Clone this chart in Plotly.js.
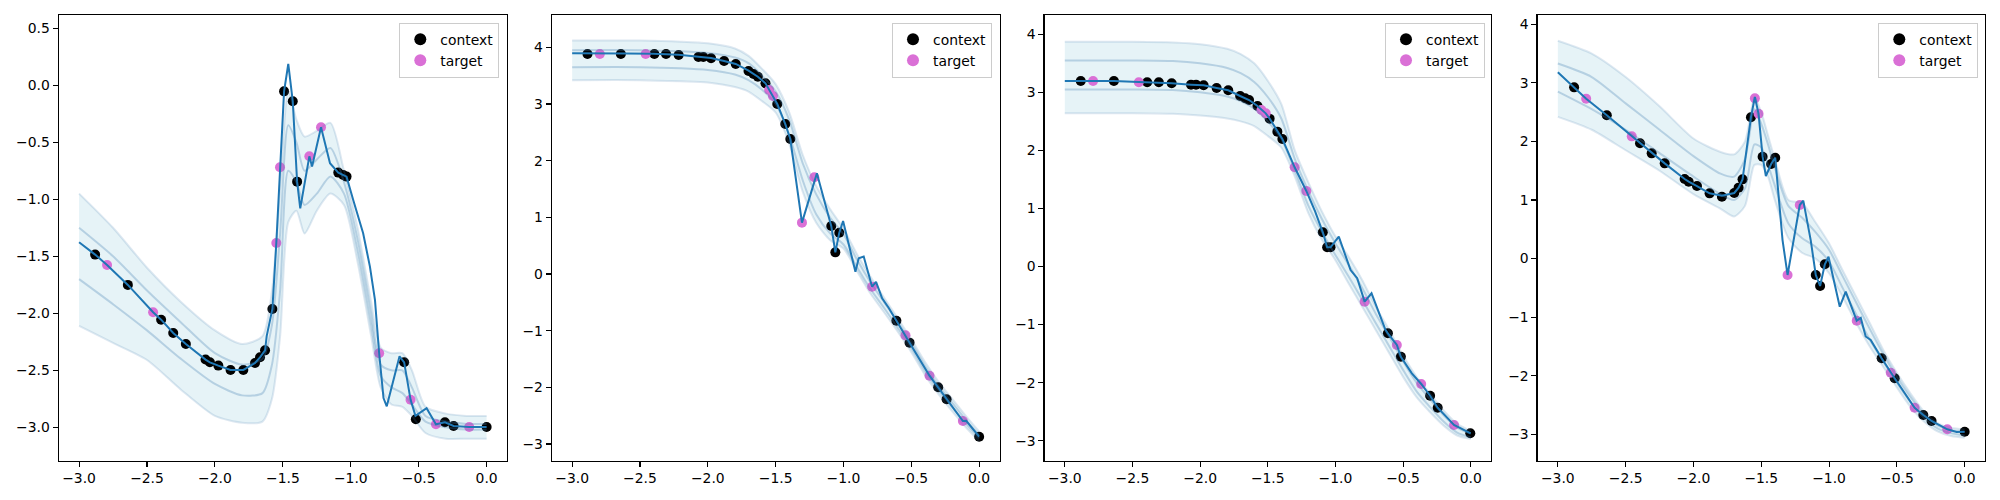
<!DOCTYPE html>
<html><head><meta charset="utf-8">
<script src="https://cdn.plot.ly/plotly-3.0.1.min.js"></script>
<style>html,body{margin:0;padding:0;background:#fff}#chart{width:2000px;height:500px}</style>
</head><body><div id="chart"></div>
<script>
// ---------- Panel 1 ----------
const p1LineX = [-3,-2.882,-2.794,-2.641,-2.455,-2.396,-2.307,-2.214,-2.069,-2.037,-1.975,-1.885,-1.791,-1.705,-1.668,-1.631,-1.619,-1.577,-1.548,-1.521,-1.491,-1.460,-1.427,-1.395,-1.372,-1.305,-1.285,-1.219,-1.170,-1.153,-1.092,-1.056,-1.031,-0.982,-0.909,-0.859,-0.822,-0.791,-0.759,-0.735,-0.641,-0.607,-0.560,-0.524,-0.442,-0.373,-0.307,-0.243,-0.128,0];
const p1LineY = [-1.377,-1.485,-1.576,-1.751,-1.991,-2.056,-2.173,-2.269,-2.406,-2.430,-2.459,-2.497,-2.497,-2.436,-2.386,-2.325,-2.200,-1.962,-1.384,-0.719,-0.053,0.187,-0.140,-0.845,-1.079,-0.623,-0.713,-0.368,-0.600,-0.684,-0.766,-0.787,-0.801,-1.006,-1.298,-1.591,-1.883,-2.351,-2.743,-2.816,-2.377,-2.430,-2.757,-2.900,-2.833,-2.974,-2.956,-2.989,-2.997,-2.997];
const p1CtxX = [-2.882,-2.641,-2.396,-2.307,-2.214,-2.069,-2.037,-1.975,-1.885,-1.791,-1.705,-1.668,-1.631,-1.577,-1.491,-1.427,-1.395,-1.092,-1.056,-1.031,-0.607,-0.521,-0.307,-0.243,0];
const p1CtxY = [-1.485,-1.751,-2.056,-2.173,-2.269,-2.406,-2.430,-2.459,-2.497,-2.497,-2.436,-2.386,-2.325,-1.962,-0.053,-0.140,-0.845,-0.766,-0.787,-0.801,-2.430,-2.930,-2.956,-2.989,-2.997];
const p1TgtX = [-2.794,-2.455,-1.548,-1.521,-1.305,-1.219,-0.791,-0.560,-0.373,-0.128];
const p1TgtY = [-1.576,-1.991,-1.384,-0.719,-0.623,-0.368,-2.351,-2.759,-2.974,-2.997];
const p1SampX = [-3,-2.75,-2.5,-2.25,-2.0,-1.8,-1.65,-1.58,-1.52,-1.46,-1.40,-1.34,-1.25,-1.15,-1.05,-0.95,-0.85,-0.78,-0.70,-0.62,-0.55,-0.45,-0.3,-0.15,0];
const p1SampTop  = [-0.95,-1.25,-1.6,-1.9,-2.15,-2.27,-2.2,-1.8,-0.9,-0.05,-0.3,-0.45,-0.4,-0.33,-0.75,-1.25,-1.9,-2.3,-2.35,-2.35,-2.5,-2.82,-2.88,-2.9,-2.9];
const p1SampHigh = [-1.25,-1.5,-1.8,-2.08,-2.35,-2.45,-2.4,-2.1,-1.3,-0.35,-0.5,-0.75,-0.65,-0.55,-0.85,-1.35,-2.0,-2.45,-2.5,-2.5,-2.65,-2.9,-2.95,-2.97,-2.97];
const p1SampLow  = [-1.7,-1.92,-2.15,-2.4,-2.62,-2.72,-2.7,-2.45,-1.8,-0.75,-0.85,-1.05,-0.95,-0.8,-0.95,-1.45,-2.1,-2.55,-2.65,-2.7,-2.8,-2.95,-3.0,-3.02,-3.02];
const p1SampBot  = [-2.11,-2.26,-2.41,-2.67,-2.9,-2.96,-2.95,-2.75,-2.2,-1.2,-1.1,-1.3,-1.1,-0.95,-1.05,-1.55,-2.2,-2.65,-2.8,-2.82,-2.9,-3.05,-3.1,-3.1,-3.1];

// ---------- Panel 2 ----------
const p2LineX = [-3,-2.887,-2.6,-2.4,-2.215,-2.069,-1.976,-1.88,-1.794,-1.7,-1.631,-1.575,-1.548,-1.52,-1.488,-1.429,-1.392,-1.306,-1.196,-1.109,-1.09,-1.06,-1.031,-1.003,-0.912,-0.888,-0.851,-0.789,-0.760,-0.715,-0.666,-0.61,-0.543,-0.513,-0.366,-0.302,-0.24,-0.12,-0.095,0];
const p2LineY = [3.894,3.89,3.89,3.888,3.87,3.835,3.81,3.76,3.706,3.59,3.48,3.365,3.247,3.141,3.0,2.647,2.382,0.906,1.776,1.012,0.847,0.382,0.729,0.935,0.04,0.278,0.308,-0.224,-0.14,-0.43,-0.6,-0.824,-1.083,-1.212,-1.795,-2.0,-2.212,-2.594,-2.59,-2.871];
const p2CtxX = [-2.887,-2.641,-2.394,-2.308,-2.215,-2.069,-2.033,-1.976,-1.88,-1.794,-1.7,-1.663,-1.631,-1.575,-1.488,-1.429,-1.392,-1.09,-1.06,-1.031,-0.61,-0.513,-0.302,-0.24,0];
const p2CtxY = [3.882,3.882,3.882,3.882,3.865,3.829,3.829,3.806,3.759,3.706,3.582,3.529,3.482,3.365,3.0,2.647,2.382,0.847,0.382,0.729,-0.824,-1.212,-2.0,-2.212,-2.871];
const p2TgtX = [-2.796,-2.458,-1.548,-1.52,-1.306,-1.215,-0.789,-0.543,-0.366,-0.12];
const p2TgtY = [3.882,3.882,3.247,3.141,0.906,1.706,-0.224,-1.083,-1.795,-2.594];
const p2SampX = [-3,-2.5,-2.2,-2.0,-1.8,-1.7,-1.6,-1.5,-1.4,-1.3,-1.2,-1.1,-1.0,-0.9,-0.8,-0.7,-0.6,-0.5,-0.4,-0.3,-0.2,-0.1,0];
const p2SampTop  = [4.12,4.12,4.1,4.07,3.98,3.85,3.62,3.35,2.85,2.1,1.55,1.15,0.8,0.35,-0.05,-0.42,-0.78,-1.15,-1.55,-1.9,-2.2,-2.5,-2.78];
const p2SampHigh = [3.95,3.95,3.93,3.9,3.82,3.72,3.5,3.22,2.72,1.95,1.4,1.0,0.7,0.25,-0.15,-0.5,-0.85,-1.22,-1.62,-1.97,-2.27,-2.57,-2.84];
const p2SampLow  = [3.65,3.65,3.63,3.6,3.52,3.42,3.25,3.0,2.45,1.65,1.05,0.72,0.52,0.12,-0.27,-0.6,-0.95,-1.31,-1.71,-2.05,-2.35,-2.63,-2.9];
const p2SampBot  = [3.42,3.42,3.4,3.38,3.3,3.22,3.05,2.85,2.3,1.45,0.9,0.6,0.45,0.05,-0.35,-0.68,-1.02,-1.38,-1.78,-2.12,-2.42,-2.7,-2.95];

// ---------- Panel 3 ----------
const p3LineX = [-3,-2.882,-2.791,-2.637,-2.453,-2.391,-2.305,-2.21,-2.067,-2.03,-1.974,-1.878,-1.792,-1.704,-1.667,-1.638,-1.576,-1.547,-1.515,-1.486,-1.429,-1.392,-1.301,-1.215,-1.15,-1.093,-1.061,-1.036,-0.975,-0.888,-0.839,-0.784,-0.733,-0.63,-0.612,-0.546,-0.516,-0.435,-0.366,-0.3,-0.244,-0.123,0];
const p3LineY = [3.195,3.195,3.195,3.195,3.18,3.175,3.17,3.156,3.133,3.128,3.121,3.075,3.035,2.937,2.897,2.868,2.765,2.696,2.638,2.547,2.323,2.197,1.709,1.302,0.95,0.59,0.331,0.331,0.514,-0.06,-0.2,-0.605,-0.461,-1.09,-1.15,-1.351,-1.553,-1.839,-2.023,-2.225,-2.431,-2.729,-2.872];
const p3CtxX = [-2.882,-2.637,-2.391,-2.305,-2.21,-2.067,-2.03,-1.974,-1.878,-1.792,-1.704,-1.667,-1.638,-1.576,-1.486,-1.429,-1.392,-1.093,-1.061,-1.036,-0.612,-0.516,-0.3,-0.244,-0.003];
const p3CtxY = [3.195,3.195,3.173,3.173,3.156,3.133,3.133,3.121,3.075,3.035,2.937,2.897,2.868,2.765,2.547,2.323,2.197,0.59,0.331,0.331,-1.15,-1.553,-2.225,-2.431,-2.872];
const p3TgtX = [-2.791,-2.453,-1.547,-1.515,-1.301,-1.215,-0.784,-0.546,-0.366,-0.123];
const p3TgtY = [3.195,3.173,2.696,2.638,1.709,1.302,-0.605,-1.351,-2.023,-2.729];
const p3SampX = [-3,-2.5,-2.2,-2.0,-1.8,-1.7,-1.6,-1.5,-1.4,-1.3,-1.2,-1.1,-1.0,-0.9,-0.8,-0.7,-0.6,-0.5,-0.4,-0.3,-0.2,-0.1,0];
const p3SampTop  = [3.87,3.87,3.86,3.83,3.75,3.66,3.5,3.2,2.8,2.0,1.45,0.95,0.52,0.16,-0.24,-0.7,-1.1,-1.53,-1.9,-2.19,-2.48,-2.71,-2.83];
const p3SampHigh = [3.55,3.55,3.54,3.5,3.42,3.33,3.18,2.92,2.55,1.85,1.3,0.82,0.4,0.02,-0.38,-0.82,-1.22,-1.63,-2.0,-2.29,-2.56,-2.77,-2.88];
const p3SampLow  = [3.05,3.05,3.04,3.0,2.93,2.85,2.72,2.5,2.2,1.65,1.05,0.6,0.2,-0.18,-0.58,-0.98,-1.38,-1.78,-2.15,-2.42,-2.67,-2.86,-2.94];
const p3SampBot  = [2.64,2.64,2.63,2.6,2.55,2.5,2.42,2.25,2.05,1.55,0.92,0.46,0.11,-0.3,-0.7,-1.1,-1.5,-1.9,-2.25,-2.51,-2.74,-2.91,-2.97];

// ---------- Panel 4 ----------
const p4LineX = [-3,-2.88,-2.791,-2.639,-2.455,-2.394,-2.308,-2.212,-2.065,-2.035,-1.974,-1.881,-1.79,-1.699,-1.667,-1.638,-1.576,-1.547,-1.52,-1.49,-1.466,-1.427,-1.397,-1.343,-1.306,-1.216,-1.19,-1.135,-1.098,-1.066,-1.031,-1.004,-0.921,-0.877,-0.796,-0.766,-0.73,-0.693,-0.612,-0.545,-0.516,-0.369,-0.305,-0.244,-0.128,-0.06,0];
const p4LineY = [3.18,2.924,2.73,2.446,2.087,1.968,1.797,1.626,1.359,1.313,1.239,1.114,1.075,1.12,1.211,1.353,2.412,2.76,2.474,1.74,1.41,1.615,1.723,0.316,-0.28,0.915,0.99,0.31,-0.28,-0.468,-0.098,0.032,-0.822,-0.566,-1.06,-1.014,-1.33,-1.39,-1.703,-1.948,-2.044,-2.546,-2.671,-2.773,-2.915,-2.96,-2.956];
const p4CtxX = [-2.88,-2.639,-2.394,-2.308,-2.212,-2.065,-2.035,-1.974,-1.881,-1.79,-1.699,-1.667,-1.638,-1.576,-1.49,-1.427,-1.397,-1.098,-1.066,-1.031,-0.612,-0.516,-0.305,-0.244,0];
const p4CtxY = [2.924,2.446,1.968,1.797,1.626,1.359,1.313,1.239,1.114,1.057,1.12,1.211,1.353,2.412,1.74,1.615,1.723,-0.28,-0.468,-0.098,-1.703,-2.044,-2.671,-2.773,-2.956];
const p4TgtX = [-2.791,-2.455,-1.547,-1.52,-1.306,-1.216,-0.796,-0.545,-0.369,-0.128];
const p4TgtY = [2.73,2.087,2.736,2.474,-0.28,0.915,-1.06,-1.948,-2.546,-2.915];
const p4SampX = [-3,-2.75,-2.5,-2.25,-2.0,-1.8,-1.7,-1.62,-1.55,-1.5,-1.45,-1.4,-1.3,-1.2,-1.1,-1.0,-0.9,-0.8,-0.7,-0.6,-0.5,-0.4,-0.3,-0.2,-0.1,0];
const p4SampTop  = [3.72,3.5,3.1,2.6,2.05,1.82,1.78,2.0,2.75,2.5,2.1,1.7,1.0,0.95,0.62,0.26,-0.2,-0.65,-1.1,-1.56,-1.95,-2.3,-2.61,-2.81,-2.89,-2.92];
const p4SampHigh = [3.33,3.1,2.65,2.2,1.75,1.45,1.4,1.7,2.55,2.3,1.95,1.55,0.9,0.7,0.45,0.15,-0.3,-0.75,-1.2,-1.63,-2.02,-2.36,-2.66,-2.85,-2.93,-2.96];
const p4SampLow  = [2.85,2.55,2.2,1.8,1.4,1.1,1.0,1.2,1.95,1.9,1.6,1.25,0.6,0.35,0.2,-0.05,-0.5,-0.95,-1.38,-1.76,-2.12,-2.45,-2.72,-2.9,-2.98,-3.02];
const p4SampBot  = [2.42,2.2,1.85,1.5,1.1,0.85,0.72,0.9,1.6,1.6,1.4,1.0,0.35,0.1,0.0,-0.25,-0.65,-1.1,-1.5,-1.85,-2.2,-2.53,-2.78,-2.95,-3.03,-3.06];

const legendLabels = ['context', 'target'];
const xTickVals = [-3.0,-2.5,-2.0,-1.5,-1.0,-0.5,0.0];

const panels = [
  {lx:p1LineX, ly:p1LineY, cx:p1CtxX, cy:p1CtxY, tx:p1TgtX, ty:p1TgtY, sx:p1SampX, s:[p1SampTop,p1SampHigh,p1SampLow,p1SampBot]},
  {lx:p2LineX, ly:p2LineY, cx:p2CtxX, cy:p2CtxY, tx:p2TgtX, ty:p2TgtY, sx:p2SampX, s:[p2SampTop,p2SampHigh,p2SampLow,p2SampBot]},
  {lx:p3LineX, ly:p3LineY, cx:p3CtxX, cy:p3CtxY, tx:p3TgtX, ty:p3TgtY, sx:p3SampX, s:[p3SampTop,p3SampHigh,p3SampLow,p3SampBot]},
  {lx:p4LineX, ly:p4LineY, cx:p4CtxX, cy:p4CtxY, tx:p4TgtX, ty:p4TgtY, sx:p4SampX, s:[p4SampTop,p4SampHigh,p4SampLow,p4SampBot]}
];

const traces = [];
panels.forEach((p, i) => {
  const n = i === 0 ? '' : String(i + 1);
  const xa = 'x' + n, ya = 'y' + n, lg = 'legend' + n;
  // band fill between outer sample curves (drawn first, beneath markers)
  traces.push({x:p.sx, y:p.s[3], xaxis:xa, yaxis:ya, type:'scatter', mode:'lines',
    line:{width:0, shape:'spline', smoothing:0.7}, showlegend:false, hoverinfo:'skip', legend:lg});
  traces.push({x:p.sx, y:p.s[0], xaxis:xa, yaxis:ya, type:'scatter', mode:'lines', fill:'tonexty',
    fillcolor:'rgba(173,216,230,0.30)', line:{width:0, shape:'spline', smoothing:0.7}, showlegend:false, hoverinfo:'skip', legend:lg});
  traces.push({x:p.cx, y:p.cy, xaxis:xa, yaxis:ya, type:'scatter', mode:'markers', name:legendLabels[0],
    marker:{color:'black', size:10}, legend:lg, showlegend:true});
  traces.push({x:p.tx, y:p.ty, xaxis:xa, yaxis:ya, type:'scatter', mode:'markers', name:legendLabels[1],
    marker:{color:'orchid', size:10}, legend:lg, showlegend:true});
  p.s.forEach((arr, k) => {
    traces.push({x:p.sx, y:arr, xaxis:xa, yaxis:ya, type:'scatter', mode:'lines',
      line:{color:(k===1||k===2)?'rgba(70,130,180,0.30)':'rgba(70,130,180,0.18)', width:2, shape:'spline', smoothing:0.7},
      showlegend:false, hoverinfo:'skip', legend:lg});
  });
  traces.push({x:p.lx, y:p.ly, xaxis:xa, yaxis:ya, type:'scatter', mode:'lines',
    line:{color:'#1f77b4', width:2}, showlegend:false, legend:lg});
});

const W = 2000, H = 500;
const xDom = [[58.7,507],[551.8,999.5],[1044.5,1491],[1537.5,1985]];
const yDom = [1 - 460.7/H, 1 - 15.3/H];
const yRanges = [[-3.293,0.614],[-3.295,4.565],[-3.344,4.327],[-3.451,4.154]];
const legendRight = [499.3, 992, 1485, 1978.3];

const font = {family:'DejaVu Sans, sans-serif', size:13.9, color:'black'};
const layout = {
  width:W, height:H, margin:{l:0,r:0,t:0,b:0},
  paper_bgcolor:'white', plot_bgcolor:'white', font:font, showlegend:true
};
const axisCommon = {showline:true, mirror:true, linecolor:'black', linewidth:1.1, ticks:'outside',
  ticklen:5, tickwidth:1.1, tickcolor:'black', showgrid:false, zeroline:false, tickfont:font};
for (let i = 0; i < 4; i++) {
  const n = i === 0 ? '' : String(i + 1);
  layout['xaxis' + n] = Object.assign({}, axisCommon, {
    domain:[xDom[i][0]/W, xDom[i][1]/W], range:[-3.15,0.15], anchor:'y' + n,
    tickmode:'array', tickvals:xTickVals, tickformat:'.1f'});
  layout['yaxis' + n] = Object.assign({}, axisCommon, {
    domain:yDom, range:yRanges[i], anchor:'x' + n,
    dtick: i === 0 ? 0.5 : 1, tickformat: i === 0 ? '.1f' : 'd'});
  layout['legend' + n] = {x:legendRight[i]/W, y:1 - 22.7/H, xanchor:'right', yanchor:'top',
    bgcolor:'rgba(255,255,255,0.8)', bordercolor:'#cccccc', borderwidth:1, font:font,
    itemsizing:'constant', traceorder:'normal', tracegroupgap:2};
}

Plotly.newPlot('chart', traces, layout, {displayModeBar:false, staticPlot:true});
</script></body></html>
